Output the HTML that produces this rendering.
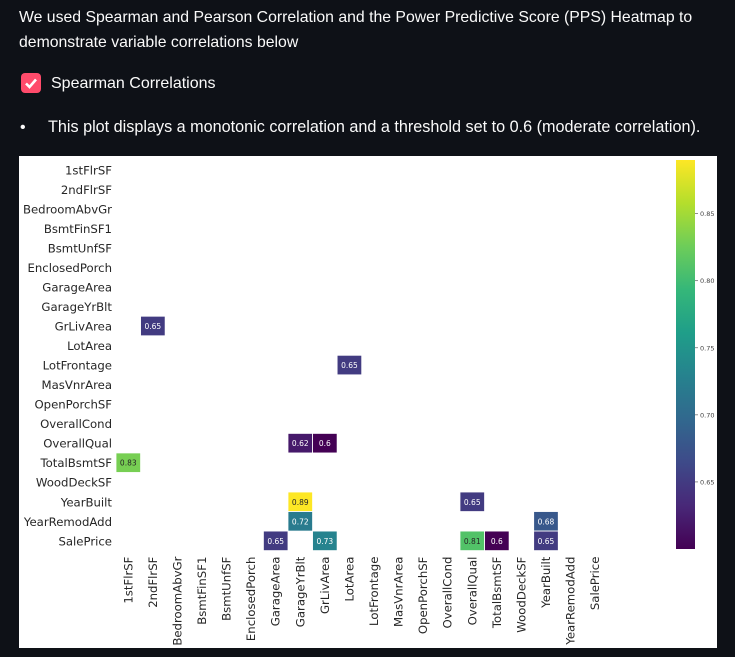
<!DOCTYPE html>
<html><head><meta charset="utf-8"><style>
body{margin:0;width:735px;height:657px;background:#0e1117;overflow:hidden;font-family:"Liberation Sans",sans-serif;color:#fafafa;position:relative}
.t{position:absolute;left:19px;font-size:16px;line-height:25px}
#panel{position:absolute;left:19px;top:156px;width:698px;height:492px;background:#fff}
</style></head><body>
<div class="t" style="top:5px;font-size:15.8px">We used Spearman and Pearson Correlation and the Power Predictive Score (PPS) Heatmap to<br>demonstrate variable correlations below</div>
<div style="position:absolute;left:21px;top:73px;width:20px;height:20px;border-radius:4px;background:#ff4b6b">
<svg width="20" height="20"><path d="M5 10.5 L8.5 14 L15 6.5" stroke="#fff" stroke-width="2.6" fill="none"/></svg></div>
<div class="t" style="left:51px;top:71px">Spearman Correlations</div>
<div class="t" style="left:20px;top:115px">•</div>
<div class="t" style="left:48px;top:115px;font-size:16.2px">This plot displays a monotonic correlation and a threshold set to 0.6 (moderate correlation).</div>
<div id="panel">
<svg id="svg" width="698" height="492" style="font-family:'DejaVu Sans',sans-serif"></svg></div>
<script>
const labels=["1stFlrSF","2ndFlrSF","BedroomAbvGr","BsmtFinSF1","BsmtUnfSF","EnclosedPorch","GarageArea","GarageYrBlt","GrLivArea","LotArea","LotFrontage","MasVnrArea","OpenPorchSF","OverallCond","OverallQual","TotalBsmtSF","WoodDeckSF","YearBuilt","YearRemodAdd","SalePrice"];
const cellRows=["GrLivArea","LotFrontage","OverallQual","OverallQual","TotalBsmtSF","YearBuilt","YearBuilt","YearRemodAdd","YearRemodAdd","SalePrice","SalePrice","SalePrice","SalePrice","SalePrice"];
const cellCols=["2ndFlrSF","LotArea","GarageYrBlt","GrLivArea","1stFlrSF","GarageYrBlt","OverallQual","GarageYrBlt","YearBuilt","GarageArea","GrLivArea","OverallQual","TotalBsmtSF","YearBuilt"];
const cellValues=[0.65,0.65,0.62,0.6,0.83,0.89,0.65,0.72,0.68,0.65,0.73,0.81,0.6,0.65];
const cbTicks=[0.65,0.70,0.75,0.80,0.85];
const vmin=0.6,vmax=0.89;
const NS="http://www.w3.org/2000/svg",svg=document.getElementById('svg');
const X0=97,Y0=4,CW=24.57,RH=19.53;
const xs=i=>X0+i*CW, ys=i=>Y0+i*RH;
const vir=[[68,1,84],[72,40,120],[62,74,137],[49,104,142],[38,130,142],[31,158,137],[53,183,121],[109,205,89],[180,222,44],[253,231,37]];
function cmap(v){let t=Math.max(0,Math.min(1,(v-vmin)/(vmax-vmin)))*9;let i=Math.min(8,Math.floor(t)),f=t-i;const c=vir[i].map((a,k)=>Math.round(a+(vir[i+1][k]-a)*f));return {c:`rgb(${c})`,l:(0.3*c[0]+0.59*c[1]+0.11*c[2])};}
function el(tag,a,txt){const e=document.createElementNS(NS,tag);for(const k in a)e.setAttribute(k,a[k]);if(txt!==undefined)e.textContent=txt;svg.appendChild(e);return e;}
labels.forEach((n,i)=>{
 const a=el('text',{x:93,y:ys(i)+RH/2+4.5,'text-anchor':'end','font-size':11.7,fill:'#262626'},n);
 
 
 const cx=xs(i)+CW/2+4,cy=Y0+20*RH+6;
 const b=el('text',{x:cx,y:cy,'text-anchor':'end','font-size':11.7,fill:'#262626',transform:`rotate(-90 ${cx} ${cy})`},n);
 
 
});
cellValues.forEach((v,k)=>{
 const r=labels.indexOf(cellRows[k]),c=labels.indexOf(cellCols[k]),m=cmap(v);
 const rc=el('rect',{x:xs(c),y:ys(r),width:CW,height:RH,fill:m.c,stroke:'#fff','stroke-width':0.8});
 
 
 const t=el('text',{x:xs(c)+CW/2,y:ys(r)+RH/2+3,'text-anchor':'middle','font-size':7.5,fill:m.l>128?'#262626':'#fff'},String(v));
 
 
});
const CBX=657,CBT=4,CBB=393,CBW=19;
const cy=v=>CBB-(v-vmin)/(vmax-vmin)*(CBB-CBT);
const defs=el('defs',{});const g=document.createElementNS(NS,'linearGradient');g.id='gr';g.setAttribute('x1',0);g.setAttribute('y1',1);g.setAttribute('x2',0);g.setAttribute('y2',0);
vir.forEach((c,i)=>{const s=document.createElementNS(NS,'stop');s.setAttribute('offset',i/9);s.setAttribute('stop-color',`rgb(${c})`);g.appendChild(s);});defs.appendChild(g);
const cb=el('rect',{x:CBX,y:CBT,width:CBW,height:CBB-CBT,fill:'url(#gr)'});


cbTicks.forEach(v=>{
 el('line',{x1:CBX+CBW,x2:CBX+CBW+3,y1:cy(v),y2:cy(v),stroke:'#444','stroke-width':0.6});
 const t=el('text',{x:CBX+CBW+5,y:cy(v)+2.5,'font-size':6.5,fill:'#444'},v.toFixed(2));
 
 
});
</script>
</body></html>
